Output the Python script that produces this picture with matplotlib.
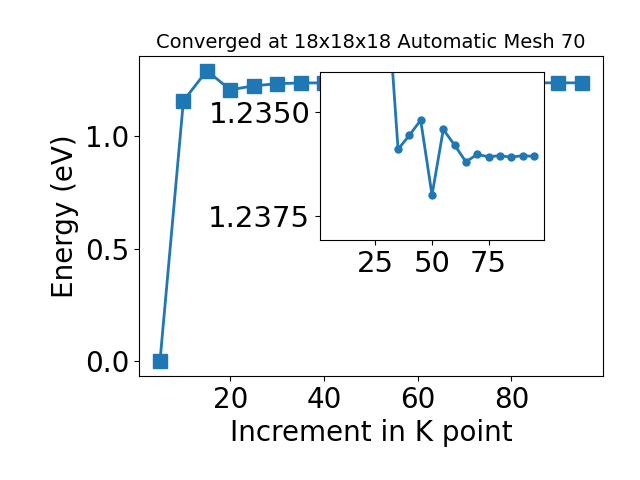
import matplotlib
matplotlib.use("Agg")
import matplotlib.pyplot as plt

kpts = [5, 10, 15, 20, 25, 30, 35, 40, 45, 50, 55, 60, 65, 70, 75, 80, 85, 90, 95]
energy = [0.0, 1.156, 1.290, 1.205, 1.223, 1.2320, 1.23590, 1.23556, 1.23520,
          1.23700, 1.23542, 1.23580, 1.23620, 1.23602, 1.23608, 1.23605,
          1.23609, 1.23605, 1.23607]
inset_start = 5  # inset shows points from K = 30 onward

fig = plt.figure(figsize=(6.4, 4.8), dpi=100)
ax = fig.add_axes([0.217, 0.217, 0.725, 0.666])
ax.plot(kpts, energy, marker='s', markersize=10, linewidth=2, color='#1f77b4')
ax.set_title('Converged at 18x18x18 Automatic Mesh 70', fontsize=14)
ax.set_xlabel('Increment in K point', fontsize=20)
ax.set_ylabel('Energy (eV)', fontsize=20)
ax.tick_params(labelsize=20)

ins = fig.add_axes([0.5, 0.5, 0.35, 0.35])
ins.plot(kpts[inset_start:], energy[inset_start:], marker='o', markersize=5,
         linewidth=2, color='#1f77b4')
ins.set_ylim(1.23808, 1.23404)
ins.set_xlim(ax.get_xlim())
ins.set_yticks([1.2350, 1.2375])
ins.set_yticklabels(['1.2350', '1.2375'])
ins.set_xticks([25, 50, 75])
ins.tick_params(labelsize=21)

fig.savefig('out.png', dpi=100)
